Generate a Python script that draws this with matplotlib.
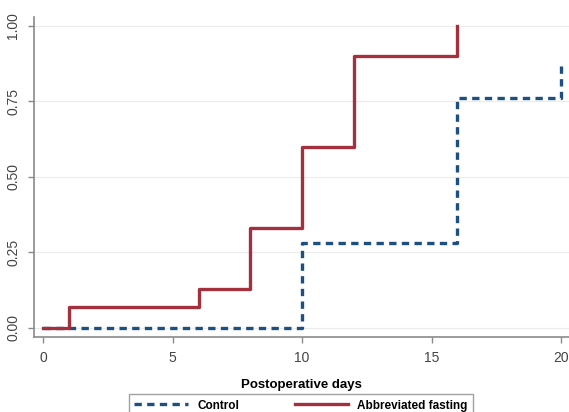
import matplotlib
matplotlib.use("Agg")
import matplotlib.pyplot as plt

# Cumulative incidence, step curves
days_control = [0, 10, 16, 20]
prob_control = [0.00, 0.28, 0.76, 0.88]

days_fasting = [0, 1, 6, 8, 10, 12, 16]
prob_fasting = [0.00, 0.07, 0.13, 0.33, 0.60, 0.90, 1.00]

xticks = [0, 5, 10, 15, 20]
yticks = [0.00, 0.25, 0.50, 0.75, 1.00]
ytick_labels = ["0.00", "0.25", "0.50", "0.75", "1.00"]

plt.rcParams['font.family'] = ['Liberation Sans', 'DejaVu Sans']

fig = plt.figure(figsize=(5.69, 4.12), dpi=100)
ax = fig.add_axes([0.06, 0.182, 0.94, 0.777])

blue = '#1d4f80'
red = '#a3303c'
grey = '#8a8a8a'

ax.plot(days_control, prob_control, drawstyle='steps-post', color=blue,
        lw=2.4, linestyle=(0, (2.2, 1.6)), label='Control')
ax.plot(days_fasting, prob_fasting, drawstyle='steps-post', color=red,
        lw=2.4, label='Abbreviated fasting')

ax.set_xlim(-0.35, 20.31)
ax.set_ylim(-0.03, 1.03)
ax.set_xticks(xticks)
ax.set_yticks(yticks)
ax.set_yticklabels(ytick_labels, rotation=90, va='center')

ax.grid(axis='y', color='#ececec', lw=0.8)
ax.set_axisbelow(True)
for s in ['top', 'right']:
    ax.spines[s].set_visible(False)
for s in ['left', 'bottom']:
    ax.spines[s].set_color(grey)
    ax.spines[s].set_linewidth(1.2)
ax.tick_params(colors='#444444', labelsize=10, length=4, width=1,
               direction='out', pad=6)
ax.tick_params(axis='both', color=grey)
ax.set_xlabel('Postoperative days', fontsize=9.5, fontweight='bold', labelpad=10)

fig.legend(loc='upper left', bbox_to_anchor=(0.227, 0.043, 0.604, 0.0),
           mode='expand', ncol=2, fancybox=False, edgecolor=grey,
           handlelength=4.5, borderaxespad=0, borderpad=0.45,
           prop={'weight': 'bold', 'size': 8.5})

fig.savefig('out.png', dpi=100)
